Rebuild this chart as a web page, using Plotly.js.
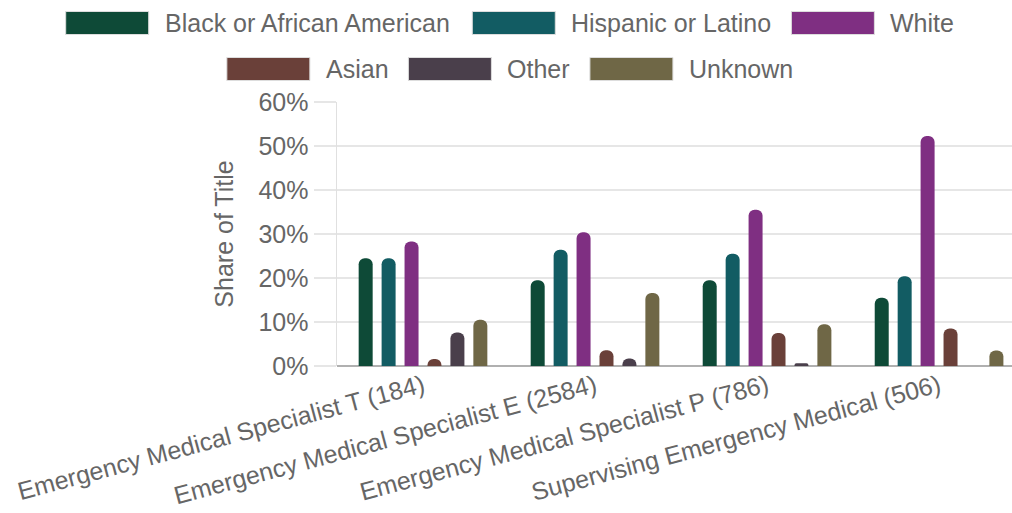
<!DOCTYPE html>
<html><head><meta charset="utf-8">
<script src="https://cdn.plot.ly/plotly-3.0.1.min.js"></script>
<style>html,body{margin:0;padding:0;background:#fff}#chart{width:1012px;height:513px}</style>
</head><body><div id="chart"></div>
<script>
// ---- data ----
const categories = ["Emergency Medical Specialist T (184)", "Emergency Medical Specialist E (2584)", "Emergency Medical Specialist P (786)", "Supervising Emergency Medical (506)"];
const seriesNames = ["Black or African American", "Hispanic or Latino", "White", "Asian", "Other", "Unknown"];
const seriesColors = ["#0e4a37", "#125c63", "#7f2f82", "#6a4039", "#4a3f4b", "#6f6746"];
const blackValues    = [24.5, 19.5, 19.5, 15.5];
const hispanicValues = [24.5, 26.4, 25.5, 20.4];
const whiteValues    = [28.3, 30.4, 35.5, 52.3];
const asianValues    = [1.6, 3.6, 7.5, 8.5];
const otherValues    = [7.6, 1.7, 0.6, 0];
const unknownValues  = [10.5, 16.6, 9.5, 3.5];
const yTickVals = [0, 10, 20, 30, 40, 50, 60];
const yTickText = ["0%", "10%", "20%", "30%", "40%", "50%", "60%"];
const legendRows = [[0, 1, 2], [3, 4, 5]];

const seriesValues = [blackValues, hispanicValues, whiteValues, asianValues, otherValues, unknownValues];

const FONT = "Liberation Sans, Arial, sans-serif";
const FS = 25;
const TXT = "#666666";

const traces = seriesNames.map((name, i) => ({
  type: "bar",
  name: name,
  x: categories,
  y: seriesValues[i],
  marker: { color: seriesColors[i], cornerradius: 6, line: { width: 0 } },
  hoverinfo: "skip"
}));

// plot geometry (pixels)
const W = 1012, H = 513;
const M = { l: 337, r: 0, t: 102, b: 147 };
const pw = W - M.l - M.r, ph = H - M.t - M.b;
const px2x = p => (p - M.l) / pw;
const py2y = p => (H - M.b - p) / ph;

// custom legend with wide swatches
const ctx = document.createElement("canvas").getContext("2d");
ctx.font = FS + "px 'Liberation Sans'";
const SW = 83, SH = 23, GAP1 = 14, GAP2 = 22, CX = 509;
const rowY = [23, 69];
const shapes = [], annotations = [];
legendRows.forEach((row, r) => {
  const widths = row.map(i => SW + GAP1 + ctx.measureText(seriesNames[i]).width);
  const total = widths.reduce((a, b) => a + b, 0) + GAP2 * (row.length - 1);
  let x = CX - total / 2;
  row.forEach((i, k) => {
    shapes.push({
      type: "rect", xref: "paper", yref: "paper",
      x0: px2x(x), x1: px2x(x + SW), y0: py2y(rowY[r] + SH / 2), y1: py2y(rowY[r] - SH / 2),
      fillcolor: seriesColors[i], line: { color: "#dddddd", width: 1 }, layer: "above"
    });
    annotations.push({
      xref: "paper", yref: "paper", x: px2x(x + SW + GAP1), y: py2y(rowY[r]),
      xanchor: "left", yanchor: "middle", showarrow: false,
      text: seriesNames[i], font: { family: FONT, size: FS, color: TXT }
    });
    x += widths[k] + GAP2;
  });
});

const layout = {
  width: W, height: H,
  margin: { l: M.l, r: M.r, t: M.t, b: M.b, pad: 0 },
  paper_bgcolor: "#ffffff", plot_bgcolor: "#ffffff",
  font: { family: FONT, size: FS, color: TXT },
  barmode: "group", bargap: 0.2, bargroupgap: 0.39,
  showlegend: false,
  xaxis: {
    type: "category", range: [-0.5, 3.424], tickangle: -15,
    showgrid: false, showline: false, zeroline: false, ticks: "",
    tickfont: { family: FONT, size: FS, color: TXT }, automargin: false, fixedrange: true
  },
  yaxis: {
    range: [0, 60], tickvals: yTickVals, ticktext: yTickText,
    showgrid: true, gridcolor: "#e6e6e6", gridwidth: 1.5,
    ticks: "outside", ticklen: 22, tickcolor: "#e6e6e6", tickwidth: 1.5,
    showline: true, linecolor: "#e0e0e0", linewidth: 1.5,
    zeroline: true, zerolinecolor: "#b0b0b0", zerolinewidth: 1.5,
    tickfont: { family: FONT, size: FS, color: TXT },
    title: { text: "Share of Title", font: { family: FONT, size: FS, color: TXT }, standoff: 17 },
    automargin: false, fixedrange: true
  },
  shapes: shapes,
  annotations: annotations
};

Plotly.newPlot("chart", traces, layout, { staticPlot: true, displayModeBar: false });
</script>
</body></html>
